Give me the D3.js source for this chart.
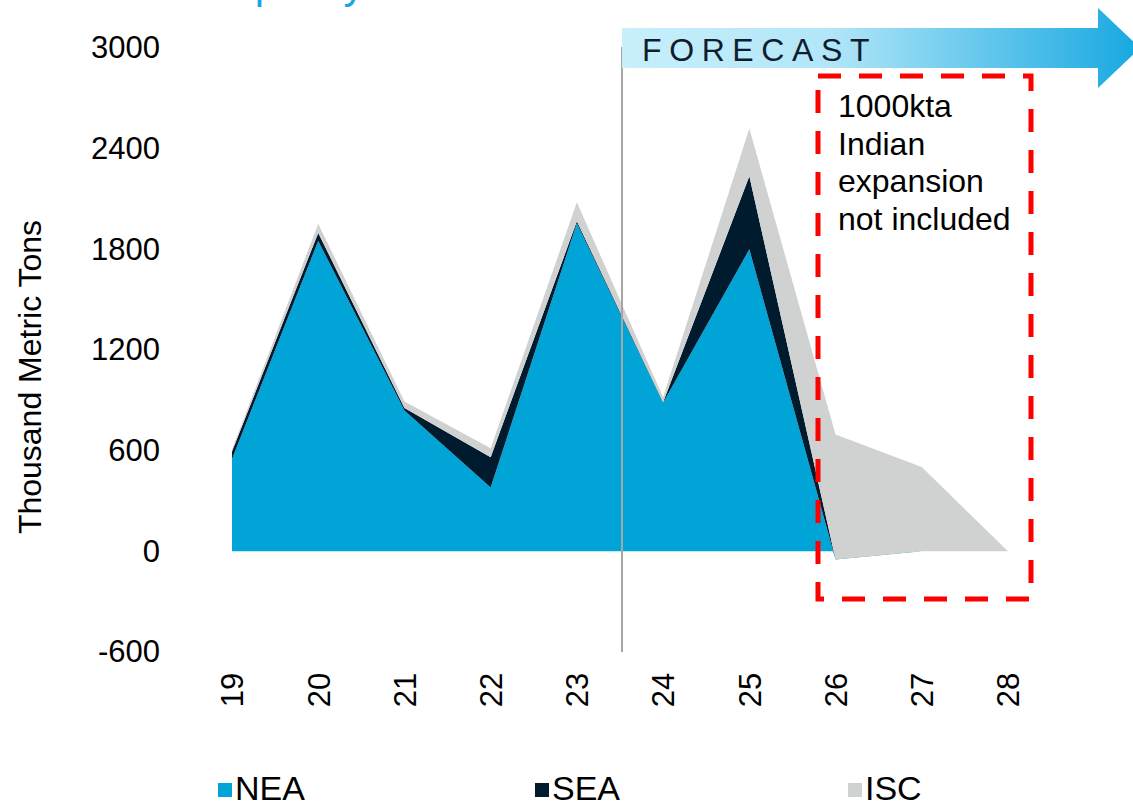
<!DOCTYPE html>
<html>
<head>
<meta charset="utf-8">
<script src="https://cdn.jsdelivr.net/npm/d3@7"></script>
<style>
  html, body { margin: 0; padding: 0; background: #ffffff; }
  svg { display: block; font-family: "Liberation Sans", Arial, sans-serif; }
</style>
</head>
<body>
<svg id="chart" width="1133" height="803"></svg>
<script>
// Capacity additions by region, thousand metric tons
const years = [19, 20, 21, 22, 23, 24, 25, 26, 27, 28];
const NEA = [550, 1850, 840, 381, 1955, 885, 1800, -48, 0, 0];
const SEA = [45, 48, 15, 180, 12, 3, 435, 0, 0, 0];
const ISC = [12, 54, 38, 54, 113, 30, 285, 745, 502, 0];
const seriesNames = ["NEA", "SEA", "ISC"];
const seriesColors = ["#00A4D6", "#001A2E", "#D0D1D1"];
const yTicks = [-600, 0, 600, 1200, 1800, 2400, 3000];
const forecastStart = 23.5;
const noteLines = ["1000kta", "Indian", "expansion", "not included"];

const svg = d3.select("#chart");
const FONT = 31;

const x = d3.scaleLinear().domain([19, 28]).range([232, 1008]);
const y = d3.scaleLinear().domain([-600, 3000]).range([652, 48]);

// cut-off heading at the very top
svg.append("text")
  .attr("x", 201).attr("y", -2)
  .attr("font-size", 42)
  .attr("fill", "#1AA7E0")
  .text("Capacity");

// stacked areas
const rows = years.map((yr, i) => ({ year: yr, NEA: NEA[i], SEA: SEA[i], ISC: ISC[i] }));
const stack = d3.stack().keys(seriesNames);
const layers = stack(rows);
const area = d3.area()
  .x(d => x(d.data.year))
  .y0(d => y(d[0]))
  .y1(d => y(d[1]));

svg.append("g").selectAll("path")
  .data(layers)
  .join("path")
  .attr("d", area)
  .attr("fill", (d, i) => seriesColors[i]);

// y axis
const yAxis = d3.axisLeft(y).tickValues(yTicks).tickSize(0).tickPadding(0).tickFormat(d => String(d));
const gy = svg.append("g").attr("transform", "translate(160,0)").call(yAxis);
gy.select(".domain").remove();
gy.selectAll("text")
  .attr("font-size", FONT)
  .attr("font-family", "Liberation Sans, Arial, sans-serif")
  .attr("fill", "#000");

// x axis (rotated labels)
const xAxis = d3.axisBottom(x).tickValues(years).tickSize(0).tickFormat(d => String(d));
const gx = svg.append("g").attr("transform", "translate(0,690)").call(xAxis);
gx.select(".domain").remove();
gx.selectAll("text")
  .attr("x", 0).attr("y", 0).attr("dy", "0.35em")
  .attr("transform", "rotate(-90)")
  .attr("text-anchor", "middle")
  .attr("font-size", FONT)
  .attr("font-family", "Liberation Sans, Arial, sans-serif")
  .attr("fill", "#000");

// y axis title
svg.append("text")
  .attr("transform", "translate(41,377) rotate(-90)")
  .attr("text-anchor", "middle")
  .attr("font-size", 32)
  .attr("fill", "#000")
  .text("Thousand Metric Tons");

// forecast divider
svg.append("line")
  .attr("x1", x(forecastStart) + 2).attr("x2", x(forecastStart) + 2)
  .attr("y1", 47).attr("y2", 652)
  .attr("stroke", "#A6A6A6").attr("stroke-width", 2);

// forecast arrow
const defs = svg.append("defs");
const grad = defs.append("linearGradient").attr("id", "fcGrad")
  .attr("x1", "0%").attr("x2", "100%").attr("y1", "0%").attr("y2", "0%");
grad.append("stop").attr("offset", "0%").attr("stop-color", "#C8EFFB");
grad.append("stop").attr("offset", "40%").attr("stop-color", "#B2E6F8");
grad.append("stop").attr("offset", "100%").attr("stop-color", "#16A8E1");

const ax0 = x(forecastStart) + 2;
const arrowPts = [
  [ax0, 28], [1098, 28], [1098, 8], [1140, 48], [1098, 88], [1098, 68], [ax0, 68]
];
svg.append("path")
  .attr("d", d3.line()(arrowPts) + "Z")
  .attr("fill", "url(#fcGrad)");

svg.append("text")
  .attr("x", 642).attr("y", 61)
  .attr("font-size", 32)
  .attr("letter-spacing", "7.6px")
  .attr("fill", "#0F1E2E")
  .text("FORECAST");

// dashed annotation box
svg.append("rect")
  .attr("x", 818).attr("y", 76)
  .attr("width", 213).attr("height", 523)
  .attr("fill", "none")
  .attr("stroke", "#FF0000")
  .attr("stroke-width", 5)
  .attr("stroke-dasharray", "23 18");

svg.append("g").selectAll("text")
  .data(noteLines)
  .join("text")
  .attr("x", 838)
  .attr("y", (d, i) => 117 + i * 37.7)
  .attr("font-size", 32)
  .attr("fill", "#000")
  .text(d => d);

// legend
const legendX = [218, 535, 848];
const lg = svg.append("g").selectAll("g")
  .data(seriesNames)
  .join("g")
  .attr("transform", (d, i) => `translate(${legendX[i]},0)`);
lg.append("rect")
  .attr("x", 0).attr("y", 783)
  .attr("width", 14).attr("height", 14)
  .attr("fill", (d, i) => seriesColors[i]);
lg.append("text")
  .attr("x", 17).attr("y", 800)
  .attr("font-size", 34)
  .attr("fill", "#000")
  .text(d => d);
</script>
</body>
</html>
